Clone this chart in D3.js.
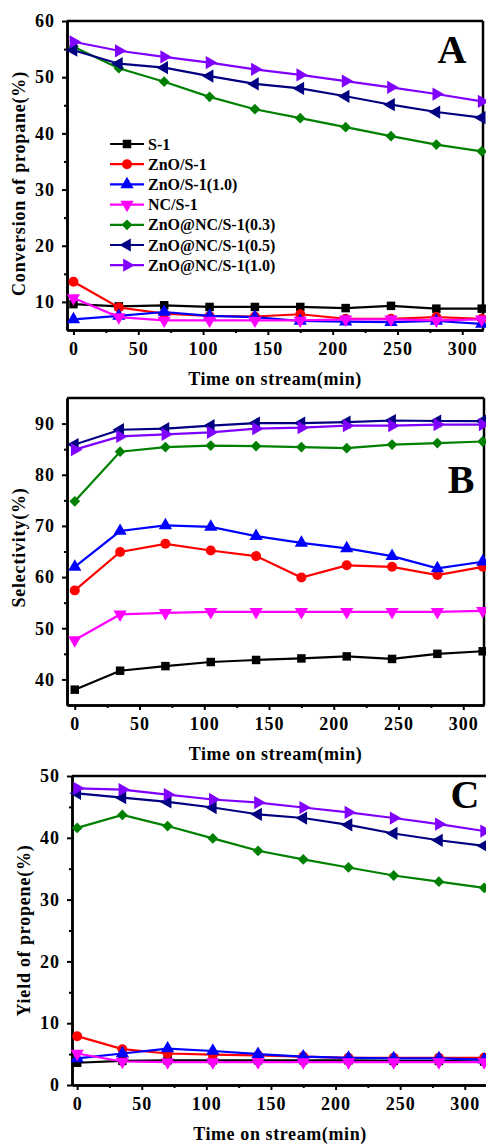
<!DOCTYPE html>
<html>
<head>
<meta charset="utf-8">
<script src="https://cdn.jsdelivr.net/npm/d3@7"></script>
<style>
  body { margin: 0; background: #fff; }
  svg { display: block; }
  text { font-family: "Liberation Serif", "Times New Roman", serif; font-weight: bold; fill: #000; }
</style>
</head>
<body>
<script>
(function (d3) {
  "use strict";

  /***** Data *****/
  var times = [0, 35, 70, 105, 140, 175, 210, 245, 280, 315];
  var seriesNames = ["S-1", "ZnO/S-1", "ZnO/S-1(1.0)", "NC/S-1",
    "ZnO@NC/S-1(0.3)", "ZnO@NC/S-1(0.5)", "ZnO@NC/S-1(1.0)"];

  // conversion of propane (%)
  var conversion = [
    [9.6, 9.2, 9.4, 9.1, 9.1, 9.1, 8.9, 9.3, 8.8, 8.8],
    [13.6, 9.0, 7.9, 7.5, 7.4, 7.8, 7.0, 7.0, 7.3, 7.0],
    [6.9, 7.5, 8.2, 7.5, 7.3, 6.6, 6.5, 6.4, 6.6, 6.1],
    [10.7, 7.3, 6.7, 6.7, 6.7, 6.7, 6.9, 6.9, 6.7, 6.9],
    [55.4, 51.6, 49.2, 46.5, 44.3, 42.7, 41.1, 39.5, 38.0, 36.8],
    [54.8, 52.4, 51.7, 50.2, 48.8, 48.0, 46.6, 45.1, 43.8, 42.8],
    [56.3, 54.7, 53.6, 52.6, 51.4, 50.4, 49.3, 48.2, 47.0, 45.7]
  ];

  // selectivity (%)
  var selectivity = [
    [38.0, 41.7, 42.6, 43.4, 43.8, 44.1, 44.5, 44.0, 45.0, 45.5],
    [57.4, 64.9, 66.5, 65.2, 64.1, 59.9, 62.3, 62.0, 60.4, 62.0],
    [62.0, 69.0, 70.1, 69.8, 68.0, 66.7, 65.6, 64.1, 61.7, 63.0],
    [47.7, 52.7, 53.0, 53.2, 53.2, 53.2, 53.2, 53.2, 53.2, 53.4],
    [74.8, 84.5, 85.4, 85.7, 85.6, 85.4, 85.2, 85.9, 86.2, 86.5],
    [85.9, 88.8, 89.0, 89.6, 90.1, 90.1, 90.3, 90.6, 90.5, 90.5],
    [84.9, 87.5, 87.9, 88.3, 89.0, 89.2, 89.6, 89.6, 89.8, 89.8]
  ];

  // yield of propene (%)
  var yieldPropene = [
    [3.6, 3.9, 4.0, 4.0, 4.0, 4.0, 4.0, 3.9, 3.9, 3.8],
    [7.9, 5.8, 5.1, 4.9, 4.8, 4.6, 4.4, 4.4, 4.4, 4.4],
    [4.3, 5.1, 5.9, 5.5, 5.0, 4.6, 4.4, 4.3, 4.3, 4.1],
    [5.1, 3.8, 3.7, 3.7, 3.7, 3.7, 3.7, 3.7, 3.7, 3.7],
    [41.6, 43.7, 41.9, 39.9, 37.9, 36.5, 35.2, 33.9, 32.9, 31.9],
    [47.2, 46.5, 45.8, 44.9, 43.8, 43.2, 42.1, 40.7, 39.6, 38.7],
    [48.0, 47.8, 47.0, 46.2, 45.7, 44.9, 44.1, 43.2, 42.2, 41.1]
  ];

  var xTicks = [0, 50, 100, 150, 200, 250, 300];
  var yTicksA = [10, 20, 30, 40, 50, 60];
  var yTicksB = [40, 50, 60, 70, 80, 90];
  var yTicksC = [0, 10, 20, 30, 40, 50];

  /***** Style *****/
  var colors = ["#000000", "#ff0000", "#0000ff", "#ff00ff", "#008000", "#000080", "#8000ff"];
  // symbol type and rotation for each series
  var markers = [
    { type: d3.symbolSquare, size: 72, rot: 0 },
    { type: d3.symbolCircle, size: 78, rot: 0 },
    { type: d3.symbolTriangle, size: 76, rot: 0 },
    { type: d3.symbolTriangle, size: 76, rot: 180 },
    { type: d3.symbolSquare, size: 58, rot: 45 },
    { type: d3.symbolTriangle, size: 76, rot: -90 },
    { type: d3.symbolTriangle, size: 76, rot: 90 }
  ];

  var svg = d3.select("body").append("svg")
      .attr("width", 486)
      .attr("height", 1146);

  function drawPanel(p) {
    var g = svg.append("g");
    var x = d3.scaleLinear().domain(p.xDomain).range(p.xRange);
    var y = d3.scaleLinear().domain(p.yDomain).range(p.yRange);

    // frame (top and right)
    g.append("line")
        .attr("x1", p.xRange[0]).attr("x2", p.xRange[1])
        .attr("y1", p.yRange[1]).attr("y2", p.yRange[1])
        .attr("stroke", "#000").attr("stroke-width", 2.5);
    g.append("line")
        .attr("x1", p.xRange[1]).attr("x2", p.xRange[1])
        .attr("y1", p.yRange[0]).attr("y2", p.yRange[1])
        .attr("stroke", "#000").attr("stroke-width", 2.5);

    // minor ticks
    var xMinor = d3.range(25, p.xDomain[1], 50);
    var yMinor = d3.range(p.yTicks[0] - 5, p.yDomain[1], 10)
        .filter(function (v) { return v > p.yDomain[0]; });
    g.append("g")
        .attr("transform", "translate(0," + p.yRange[0] + ")")
        .call(d3.axisBottom(x).tickValues(xMinor).tickFormat("").tickSize(3).tickSizeOuter(0))
        .call(styleAxis);
    g.append("g")
        .attr("transform", "translate(" + p.xRange[0] + ",0)")
        .call(d3.axisLeft(y).tickValues(yMinor).tickFormat("").tickSize(3).tickSizeOuter(0))
        .call(styleAxis);

    // main axes
    var xAxisG = g.append("g")
        .attr("transform", "translate(0," + p.yRange[0] + ")")
        .call(d3.axisBottom(x).tickValues(xTicks).tickSize(5).tickPadding(7).tickSizeOuter(0))
        .call(styleAxis);
    xAxisG.selectAll("text").style("font-size", "18px").style("letter-spacing", "1px");

    var yAxisG = g.append("g")
        .attr("transform", "translate(" + p.xRange[0] + ",0)")
        .call(d3.axisLeft(y).tickValues(p.yTicks).tickSize(5).tickPadding(7).tickSizeOuter(0))
        .call(styleAxis);
    yAxisG.selectAll("text").style("font-size", "18px").style("letter-spacing", "1px");

    // axis titles
    g.append("text")
        .attr("x", (p.xRange[0] + p.xRange[1]) / 2)
        .attr("y", p.yRange[0] + 55)
        .attr("text-anchor", "middle")
        .style("font-size", "18px")
        .style("letter-spacing", "0.6px")
        .text("Time on stream(min)");
    g.append("text")
        .attr("transform", "translate(" + (p.xRange[0] - 42) + "," + ((p.yRange[0] + p.yRange[1]) / 2 + p.yLabelShift) + ") rotate(-90)")
        .attr("text-anchor", "middle")
        .style("font-size", "18px")
        .style("letter-spacing", "0.8px")
        .text(p.yLabel);

    // panel letter
    g.append("text")
        .attr("x", p.letterPos[0]).attr("y", p.letterPos[1])
        .attr("text-anchor", "middle")
        .style("font-size", "40px")
        .text(p.letter);

    // series
    var line = d3.line()
        .x(function (d, i) { return x(times[i]); })
        .y(function (d) { return y(d); });

    p.data.forEach(function (vals, s) {
      var sg = g.append("g");
      sg.append("path")
          .attr("d", line(vals))
          .attr("fill", "none")
          .attr("stroke", colors[s])
          .attr("stroke-width", 2.2);
      sg.selectAll("path.pt")
        .data(vals)
        .join("path")
          .attr("class", "pt")
          .attr("d", d3.symbol().type(markers[s].type).size(markers[s].size))
          .attr("transform", function (d, i) {
            return "translate(" + x(times[i]) + "," + y(d) + ") rotate(" + markers[s].rot + ")";
          })
          .attr("fill", colors[s]);
    });
  }

  function styleAxis(sel) {
    sel.select(".domain").attr("stroke-width", 2.5);
    sel.selectAll(".tick line").attr("stroke-width", 2);
    sel.attr("font-family", null).attr("font-size", null);
  }

  drawPanel({
    data: conversion, letter: "A", letterPos: [452, 63],
    xDomain: [-5, 316], xRange: [67, 483],
    yDomain: [5, 60], yRange: [330, 21], yTicks: yTicksA,
    yLabel: "Conversion of propane(%)", yLabelShift: 8
  });
  drawPanel({
    data: selectivity, letter: "B", letterPos: [461, 493],
    xDomain: [-6, 316], xRange: [67, 484],
    yDomain: [35, 95], yRange: [705, 398], yTicks: yTicksB,
    yLabel: "Selectivity(%)", yLabelShift: -4
  });
  drawPanel({
    data: yieldPropene, letter: "C", letterPos: [465, 808],
    xDomain: [-4, 318], xRange: [72, 488],
    yDomain: [0, 50], yRange: [1085, 776], yTicks: yTicksC,
    yLabel: "Yield of propene(%)", yLabelShift: 0
  });

  // legend in panel A
  var legend = svg.append("g").attr("transform", "translate(110,144)");
  seriesNames.forEach(function (name, s) {
    var row = legend.append("g").attr("transform", "translate(0," + (s * 20.2) + ")");
    row.append("line")
        .attr("x1", 0).attr("x2", 34)
        .attr("stroke", colors[s]).attr("stroke-width", 2.2);
    row.append("path")
        .attr("d", d3.symbol().type(markers[s].type).size(markers[s].size))
        .attr("transform", "translate(17,0) rotate(" + markers[s].rot + ")")
        .attr("fill", colors[s]);
    row.append("text")
        .attr("x", 38).attr("y", 5.5)
        .style("font-size", "16px")
        .text(name);
  });

})(d3);
</script>
</body>
</html>
